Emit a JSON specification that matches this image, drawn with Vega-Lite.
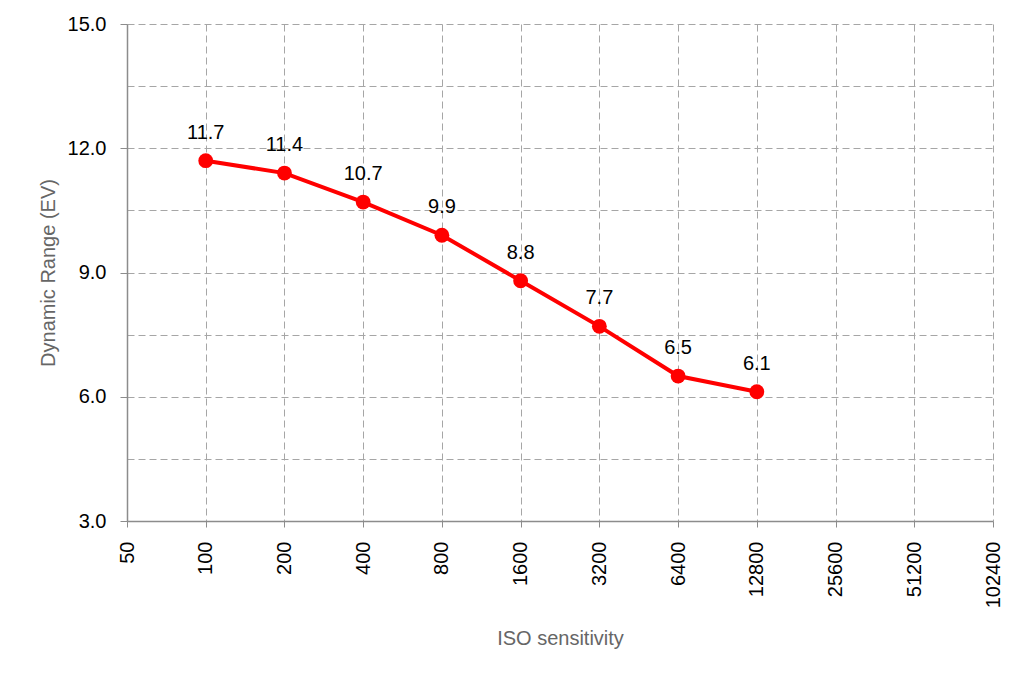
{
  "$schema": "https://vega.github.io/schema/vega-lite/v6.json",
  "width": 866,
  "height": 497,
  "autosize": "none",
  "padding": {"left": 127, "top": 24, "right": 25, "bottom": 157},
  "background": "white",
  "config": {
    "view": {"stroke": null},
    "font": "Liberation Sans"
  },
  "data": {
    "values": [
      {"iso": 100, "dr": 11.7},
      {"iso": 200, "dr": 11.4},
      {"iso": 400, "dr": 10.7},
      {"iso": 800, "dr": 9.9},
      {"iso": 1600, "dr": 8.8},
      {"iso": 3200, "dr": 7.7},
      {"iso": 6400, "dr": 6.5},
      {"iso": 12800, "dr": 6.12}
    ]
  },
  "encoding": {
    "x": {
      "field": "iso",
      "type": "quantitative",
      "scale": {"type": "log", "base": 2, "domain": [50, 102400], "nice": false},
      "axis": {
        "title": "ISO sensitivity",
        "values": [50, 100, 200, 400, 800, 1600, 3200, 6400, 12800, 25600, 51200, 102400],
        "format": "d",
        "labelAngle": -90,
        "labelAlign": "right",
        "labelBaseline": "middle",
        "labelFontSize": 20,
        "labelColor": "#000000",
        "labelPadding": 14,
        "tickSize": 6,
        "tickColor": "#8c8c8c",
        "domainColor": "#8c8c8c",
        "domainWidth": 1.5,
        "grid": true,
        "gridColor": "#a6a6a6",
        "gridDash": [7, 4],
        "gridWidth": 1,
        "titleFontSize": 20,
        "titleFontWeight": "normal",
        "titleColor": "#666666",
        "titlePadding": 21
      }
    },
    "y": {
      "field": "dr",
      "type": "quantitative",
      "scale": {"domain": [3, 15], "nice": false, "zero": false},
      "axis": {
        "title": "Dynamic Range (EV)",
        "values": [3, 4.5, 6, 7.5, 9, 10.5, 12, 13.5, 15],
        "labelExpr": "datum.value % 3 === 0 ? format(datum.value, '.1f') : ''",
        "labelFontSize": 20,
        "labelColor": "#000000",
        "labelPadding": 14,
        "tickSize": 7,
        "tickColor": {"condition": {"test": "datum.value % 3 === 0", "value": "#8c8c8c"}, "value": "transparent"},
        "domainColor": "#8c8c8c",
        "domainWidth": 1.5,
        "grid": true,
        "gridColor": "#a6a6a6",
        "gridDash": [7, 4],
        "gridWidth": 1,
        "titleFontSize": 20,
        "titleFontWeight": "normal",
        "titleColor": "#666666",
        "titlePadding": 9
      }
    }
  },
  "layer": [
    {"mark": {"type": "line", "color": "#ff0000", "strokeWidth": 4}},
    {"mark": {"type": "point", "filled": true, "color": "#ff0000", "size": 220, "opacity": 1}},
    {
      "mark": {"type": "text", "dy": -28, "fontSize": 20, "color": "#000000"},
      "encoding": {"text": {"field": "dr", "type": "quantitative", "format": ".1f"}}
    }
  ]
}
